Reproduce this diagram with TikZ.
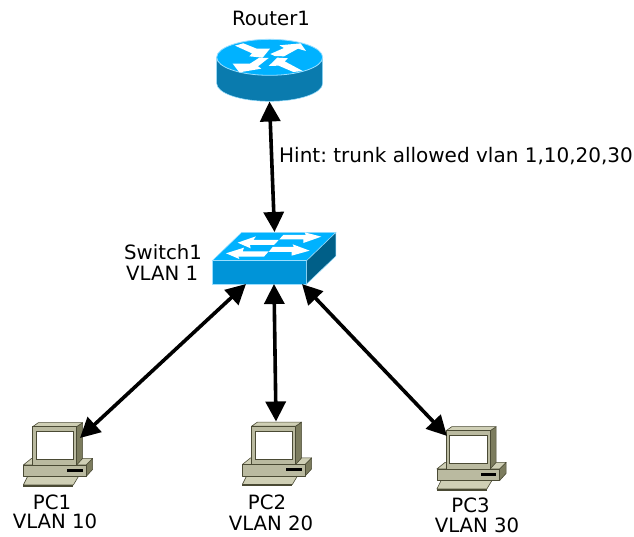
\documentclass[tikz,border=0pt]{standalone}
\usepackage{fontspec}
\setmainfont{DejaVu Sans}
\usetikzlibrary{arrows.meta,calc}
\definecolor{ciscotop}{HTML}{00B2FF}
\definecolor{ciscofront}{HTML}{0094D8}
\definecolor{ciscoside}{HTML}{005F88}
\definecolor{routerside}{HTML}{0A7BAE}
\definecolor{ciscoedge}{HTML}{9ADFFF}
\definecolor{pclight}{HTML}{CFCFB5}
\definecolor{pcmid}{HTML}{BABAA0}
\definecolor{pcdark}{HTML}{7C7C5E}
\definecolor{pcline}{HTML}{4A4A34}
\tikzset{
  device/.style={inner sep=0pt,outer sep=0pt,minimum width=#1},
  lbl/.style={inner sep=0pt,font=\fontsize{19.7}{22}\selectfont\frenchspacing},
  link/.style={line width=3.6pt,{Triangle[length=20pt,width=20pt]}-{Triangle[length=20pt,width=20pt]},shorten >=0pt,shorten <=0pt},
  whitearrow/.style={fill=white,draw=none},
  pcpart/.style={draw=pcline,line width=.6pt,line join=round},
  pcicon/.pic={
    \begin{scope}[x=.3333pt,y=-.3333pt]
      % keyboard
      \fill[pcline] (40,225)--(190,225)--(190,231)--(40,231)--cycle;
      \filldraw[pcpart,fill=pclight] (55,195)--(208,195)--(190,225)--(40,225)--cycle;
      % base
      \filldraw[pcpart,fill=pcdark] (228,165)--(248,145)--(248,178)--(228,200)--cycle;
      \filldraw[pcpart,fill=pclight] (40,165)--(65,145)--(248,145)--(228,165)--cycle;
      \filldraw[pcpart,fill=pcmid] (40,165)--(228,165)--(228,200)--(40,200)--cycle;
      \fill[black] (172,176)--(218,176)--(218,186)--(172,186)--cycle;
      % monitor
      \filldraw[pcpart,fill=pcdark] (200,50)--(218,38)--(218,145)--(200,165)--cycle;
      \filldraw[pcpart,fill=pclight] (68,50)--(85,38)--(218,38)--(200,50)--cycle;
      \filldraw[pcpart,fill=pcmid] (68,50)--(200,50)--(200,165)--(68,165)--cycle;
      \filldraw[draw=pcline,line width=.5pt,fill=white] (78,65)--(191,65)--(191,148)--(78,148)--cycle;
    \end{scope}
  }
}
\begin{document}
\begin{tikzpicture}[x=1pt,y=-1pt]
\useasboundingbox (0,0) rectangle (634,537);
\fill[white] (0,0) rectangle (634,537);
% device boxes
\node[device=107pt,minimum height=63pt] (router) at (269.5,70) {};
\node[device=124pt,minimum height=52pt] (switch) at (274,258) {};
\node[device=70pt,minimum height=64pt] (pc1) at (58,454) {};
\node[device=70pt,minimum height=64pt] (pc2) at (277,453.5) {};
\node[device=70pt,minimum height=64pt] (pc3) at (471.5,458) {};
% router
\begin{scope}[shift={(200,25)},x=.3333pt,y=-.3333pt]
  \filldraw[fill=routerside,draw=ciscoedge,line width=.5pt] (50,97)--(50,175) arc[start angle=180,end angle=0,x radius=159,y radius=54]--(368,97)--cycle;
  \filldraw[fill=ciscotop,draw=ciscoedge,line width=.8pt] (209,97) ellipse[x radius=159,y radius=54];
  \fill[whitearrow] (105,62)--(130,55)--(170,71)--(210,71)--(188,98)--(148,94)--(156,85)--cycle;
  \fill[whitearrow] (211,87)--(252,69)--(238,61)--(302,55)--(318,78)--(294,71)--(252,94)--(224,93)--cycle;
  \fill[whitearrow] (98,116)--(150,116)--(178,98)--(206,99)--(174,124)--(184,131)--(118,142)--cycle;
  \fill[whitearrow] (206,123)--(232,98)--(264,100)--(254,109)--(308,138)--(280,141)--(236,122)--cycle;
\end{scope}
% switch
\begin{scope}[shift={(200,220)},x=.3333pt,y=-.3333pt]
  \filldraw[fill=ciscotop,draw=ciscoedge,line width=.5pt] (37,122)--(125,37)--(408,37)--(320,122)--cycle;
  \filldraw[fill=ciscofront,draw=ciscoedge,line width=.8pt] (37,122)--(320,122)--(320,192)--(37,192)--cycle;
  \filldraw[fill=ciscoside,draw=ciscoedge,line width=.5pt] (320,122)--(408,37)--(408,108)--(320,192)--cycle;
  \fill[whitearrow] (113,68)--(168,49)--(160,60)--(236,60)--(222,75)--(150,75)--(152,85)--cycle;
  \fill[whitearrow] (364,50)--(310,69)--(310,58)--(238,58)--(250,45)--(318,45)--(314,37)--cycle;
  \fill[whitearrow] (78,100)--(132,83)--(128,94)--(206,94)--(192,110)--(115,110)--(118,117)--cycle;
  \fill[whitearrow] (329,92)--(275,107)--(275,96)--(206,96)--(218,81)--(282,81)--(278,73)--cycle;
\end{scope}
% PCs
\pic at (10,410) {pcicon};
\pic at (229,409.5) {pcicon};
\pic at (423.5,414) {pcicon};
% links
\draw[link] (router.south) -- ([xshift=.5pt]switch.north);
\draw[link] ([xshift=-28pt]switch.south) -- ([xshift=-13pt,yshift=-16pt]pc1.north east);
\draw[link] (switch.south) -- ([xshift=-1pt]pc2.north);
\draw[link] ([xshift=28pt]switch.south) -- ([xshift=-24.5pt,yshift=-10pt]pc3.north);
% labels
\node[lbl,anchor=center] (lrouter) at (271,18) {Router1};
\node[lbl,anchor=west,font=\fontsize{20}{22}\selectfont\frenchspacing] (lhint) at (279,156) {Hint: trunk allowed vlan 1,10,20,30};
\node[lbl,anchor=west] (lsw1) at (124,252) {Switch1};
\node[lbl,anchor=west] (lsw2) at (126,273) {VLAN 1};
\node[lbl,anchor=center] (lp1a) at (52,502) {PC1};
\node[lbl,anchor=center] (lp1b) at (55,521) {VLAN 10};
\node[lbl,anchor=center] (lp2a) at (267,502) {PC2};
\node[lbl,anchor=center] (lp2b) at (271,523) {VLAN 20};
\node[lbl,anchor=center] (lp3a) at (470.5,505.5) {PC3};
\node[lbl,anchor=center] (lp3b) at (477,525.5) {VLAN 30};
\end{tikzpicture}
\end{document}
